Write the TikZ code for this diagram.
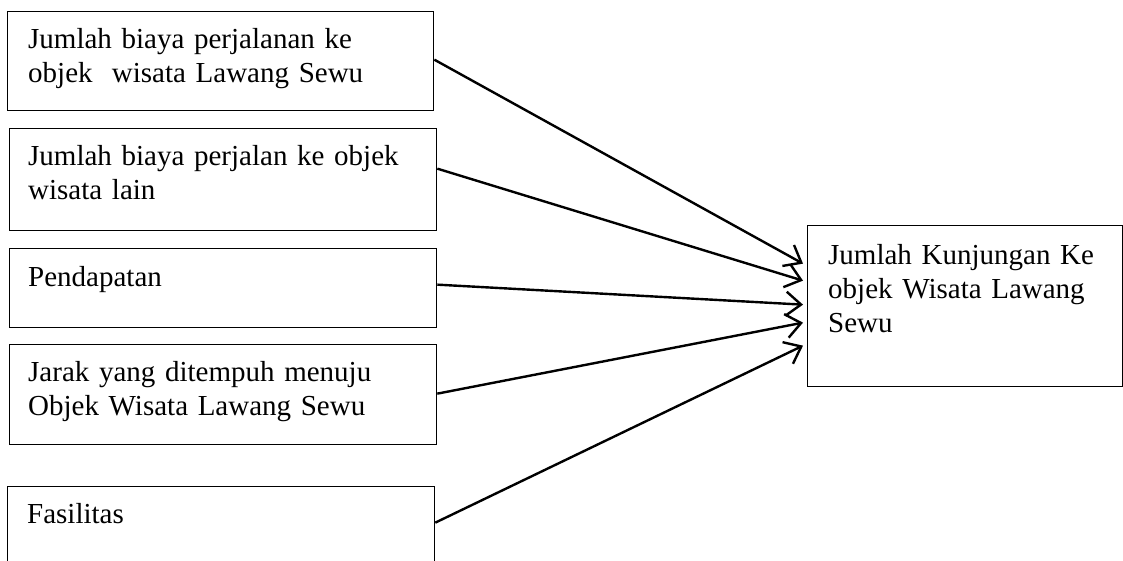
\documentclass[tikz,border=0pt]{standalone}
\usepackage{fontspec}
\setmainfont{Liberation Serif}
\usetikzlibrary{arrows.meta}
\begin{document}
\begin{tikzpicture}[x=1pt,y=-1pt,
  box/.style={draw, line width=1.3pt, inner sep=0pt, anchor=north west},
  txt/.style={anchor=base west, inner sep=0pt, align=left, text width=#1,
    font=\fontsize{29}{34}\selectfont},
  txt/.default=400pt,
  link/.style={line width=2.4pt, -{Straight Barb[length=15pt,width=24pt,line width=2.4pt]}}]
\useasboundingbox (0,0) rectangle (1123,561);
% left boxes
\node[box, minimum width=426pt, minimum height=99pt]  (b1) at (7,11) {};
\node[box, minimum width=427pt, minimum height=102pt] (b2) at (9,128) {};
\node[box, minimum width=427pt, minimum height=79pt]  (b3) at (9,248) {};
\node[box, minimum width=427pt, minimum height=100pt] (b4) at (9,344) {};
\node[box, minimum width=427pt, minimum height=100pt] (b5) at (7,486) {};
% right box
\node[box, minimum width=315pt, minimum height=161pt] (out) at (807,225) {};
% texts
\node[txt] (t1) at (28,49) {Jumlah biaya perjalanan ke\\objek~ wisata Lawang Sewu};
\node[txt] (t2) at (28,166) {Jumlah biaya perjalan ke objek\\wisata lain};
\node[txt] (t3) at (28,286) {Pendapatan};
\node[txt] (t4) at (28,381) {Jarak yang ditempuh menuju\\Objek Wisata Lawang Sewu};
\node[txt] (t5) at (27,523) {Fasilitas};
\node[txt=280pt] (t6) at (828,264) {Jumlah Kunjungan Ke\\objek Wisata Lawang\\Sewu};
% connectors
\draw[link] ([yshift=1.5pt]b1.east) -- ([xshift=-4pt,yshift=42.5pt]out.west);
\draw[link] ([yshift=11pt]b2.east) -- ([xshift=-4pt,yshift=25.5pt]out.west);
\draw[link] ([yshift=3.5pt]b3.east) -- ([xshift=-4pt,yshift=1.5pt]out.west);
\draw[link] ([yshift=1pt]b4.east) -- ([xshift=-4pt,yshift=-16.5pt]out.west);
\draw[link] ([yshift=14pt]b5.east) -- ([xshift=-4pt,yshift=-39.5pt]out.west);
\end{tikzpicture}
\end{document}
